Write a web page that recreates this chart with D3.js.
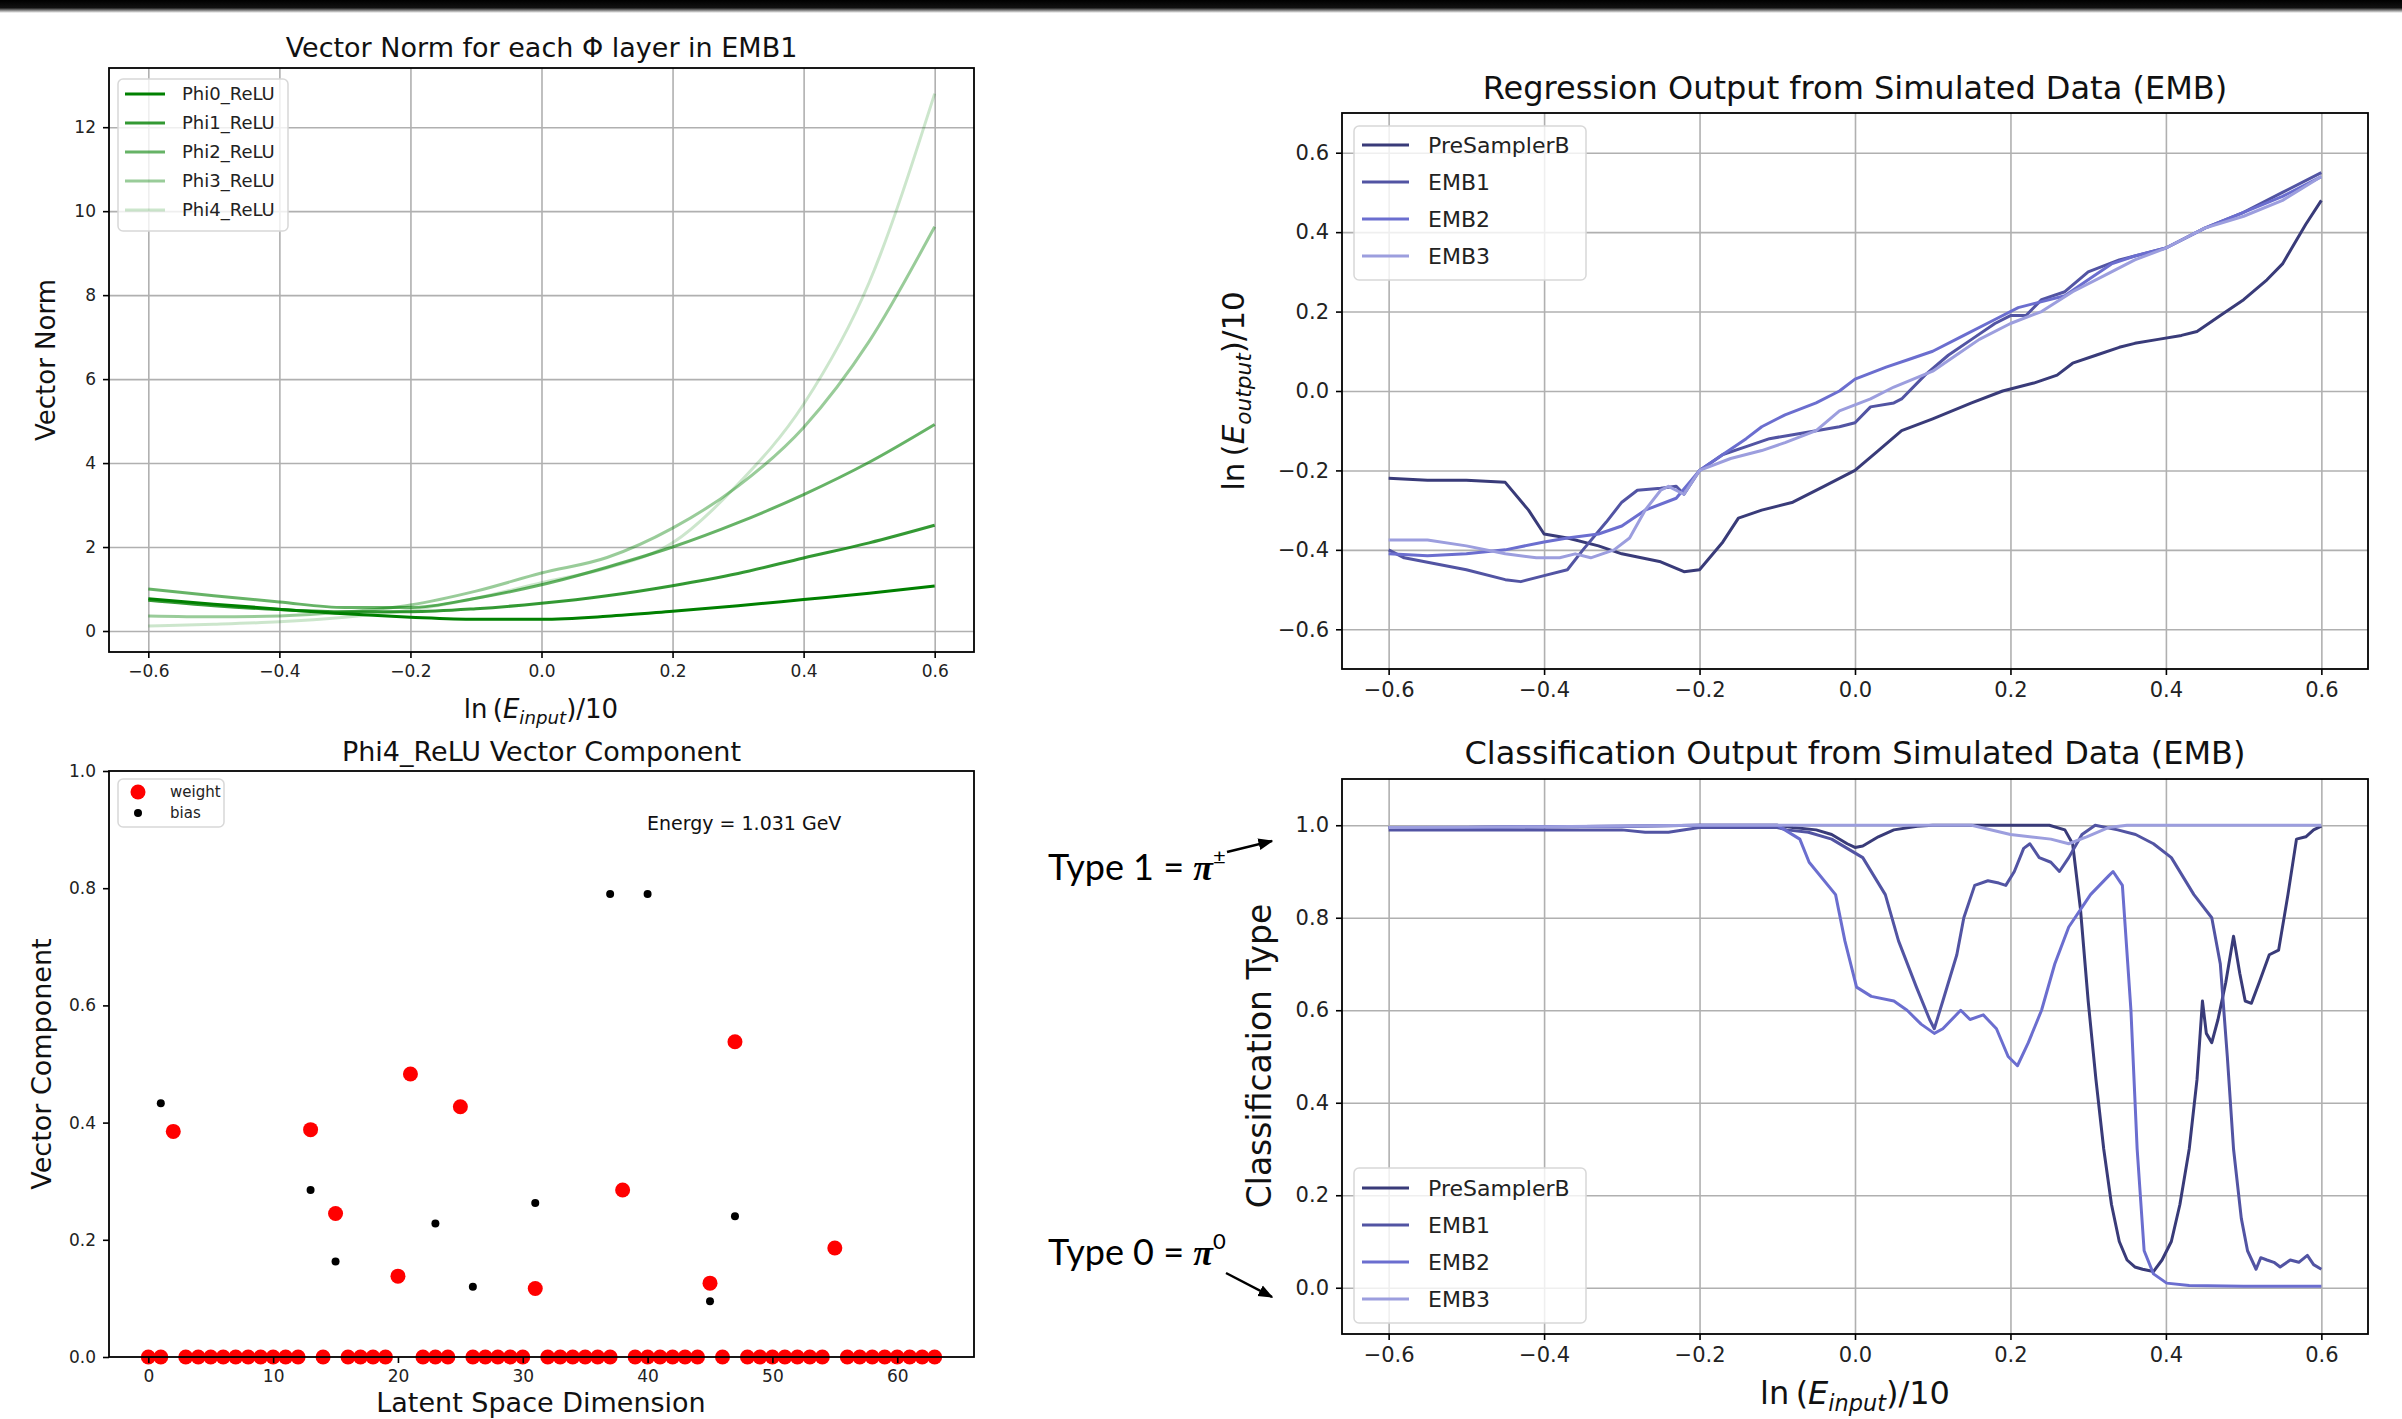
<!DOCTYPE html>
<html lang="en">
<head>
<meta charset="utf-8" />
<title>EMB regression / classification panels</title>
<script src="https://d3js.org/d3.v7.min.js"></script>
<style>
  html, body { margin: 0; padding: 0; background: #fff; overflow: hidden; }
  svg { display: block; font-family: "DejaVu Sans", sans-serif; }
</style>
</head>
<body>
<script>
// ---- data ----

// panel A: vector norm of each Phi layer vs ln(E_input)/10
const normX = [-0.6, -0.5, -0.4, -0.3, -0.2, -0.1, 0, 0.1, 0.2, 0.3, 0.4, 0.5, 0.6];
const phiNames = ["Phi0_ReLU", "Phi1_ReLU", "Phi2_ReLU", "Phi3_ReLU", "Phi4_ReLU"];
const phi0 = [0.77, 0.64, 0.52, 0.41, 0.33, 0.28, 0.28, 0.35, 0.47, 0.60, 0.75, 0.90, 1.07];
const phi1 = [0.73, 0.60, 0.51, 0.46, 0.46, 0.53, 0.66, 0.84, 1.08, 1.37, 1.74, 2.10, 2.52];
const phi2 = [1.00, 0.84, 0.69, 0.56, 0.56, 0.78, 1.10, 1.52, 2.00, 2.58, 3.25, 4.02, 4.92];
const phi3 = [0.36, 0.34, 0.36, 0.45, 0.62, 0.95, 1.38, 1.75, 2.45, 3.45, 4.85, 6.90, 9.63];
const phi4 = [0.12, 0.16, 0.22, 0.33, 0.50, 0.78, 1.15, 1.50, 2.10, 3.50, 5.40, 8.30, 12.80];

// panel B: regression output
const layerNames = ["PreSamplerB", "EMB1", "EMB2", "EMB3"];
const regPsbX = [-0.6, -0.55, -0.5, -0.45, -0.42, -0.4, -0.37, -0.33, -0.3, -0.25, -0.22, -0.2, -0.17, -0.15, -0.12, -0.08, -0.04, 0, 0.03, 0.06, 0.1, 0.15, 0.19, 0.23, 0.26, 0.28, 0.31, 0.34, 0.36, 0.39, 0.42, 0.44, 0.47, 0.5, 0.53, 0.55, 0.58, 0.6];
const regPsbY = [-0.22, -0.225, -0.225, -0.23, -0.30, -0.36, -0.37, -0.39, -0.41, -0.43, -0.455, -0.45, -0.38, -0.32, -0.30, -0.28, -0.24, -0.20, -0.15, -0.10, -0.07, -0.03, 0.00, 0.02, 0.04, 0.07, 0.09, 0.11, 0.12, 0.13, 0.14, 0.15, 0.19, 0.23, 0.28, 0.32, 0.42, 0.48];
const regEmb1X = [-0.6, -0.58, -0.5, -0.45, -0.43, -0.4, -0.37, -0.35, -0.32, -0.3, -0.28, -0.25, -0.23, -0.22, -0.2, -0.17, -0.14, -0.11, -0.08, -0.05, -0.02, 0, 0.02, 0.05, 0.06, 0.09, 0.12, 0.15, 0.18, 0.2, 0.22, 0.24, 0.27, 0.3, 0.34, 0.4, 0.45, 0.5, 0.55, 0.6];
const regEmb1Y = [-0.40, -0.42, -0.45, -0.475, -0.48, -0.465, -0.45, -0.40, -0.33, -0.28, -0.25, -0.245, -0.24, -0.26, -0.20, -0.16, -0.14, -0.12, -0.11, -0.10, -0.09, -0.08, -0.04, -0.03, -0.02, 0.04, 0.09, 0.13, 0.17, 0.19, 0.19, 0.23, 0.25, 0.30, 0.33, 0.36, 0.41, 0.45, 0.50, 0.55];
const regEmb2X = [-0.6, -0.55, -0.5, -0.45, -0.4, -0.37, -0.33, -0.3, -0.27, -0.23, -0.2, -0.17, -0.14, -0.12, -0.09, -0.05, -0.02, 0, 0.04, 0.07, 0.1, 0.14, 0.18, 0.21, 0.23, 0.27, 0.3, 0.33, 0.36, 0.4, 0.45, 0.5, 0.55, 0.6];
const regEmb2Y = [-0.41, -0.415, -0.41, -0.40, -0.38, -0.37, -0.36, -0.34, -0.30, -0.27, -0.20, -0.16, -0.12, -0.09, -0.06, -0.03, 0.00, 0.03, 0.06, 0.08, 0.10, 0.14, 0.18, 0.21, 0.22, 0.24, 0.28, 0.32, 0.34, 0.36, 0.41, 0.45, 0.49, 0.54];
const regEmb3X = [-0.6, -0.55, -0.5, -0.45, -0.41, -0.38, -0.36, -0.34, -0.31, -0.29, -0.27, -0.25, -0.24, -0.22, -0.2, -0.16, -0.12, -0.09, -0.05, -0.02, 0.02, 0.05, 0.1, 0.13, 0.16, 0.2, 0.24, 0.28, 0.32, 0.36, 0.4, 0.45, 0.5, 0.55, 0.6];
const regEmb3Y = [-0.375, -0.375, -0.39, -0.41, -0.42, -0.42, -0.41, -0.42, -0.40, -0.37, -0.30, -0.25, -0.24, -0.26, -0.20, -0.17, -0.15, -0.13, -0.10, -0.05, -0.02, 0.01, 0.05, 0.09, 0.13, 0.17, 0.20, 0.25, 0.29, 0.33, 0.36, 0.41, 0.44, 0.48, 0.54];

// panel C: Phi4_ReLU vector component (64 latent dims)
const dims = d3.range(64);
const weights = [0, 0, 0.385, 0, 0, 0, 0, 0, 0, 0, 0, 0, 0, 0.388, 0, 0.245,
                 0, 0, 0, 0, 0.138, 0.483, 0, 0, 0, 0.427, 0, 0, 0, 0, 0, 0.117,
                 0, 0, 0, 0, 0, 0, 0.285, 0, 0, 0, 0, 0, 0, 0.126, 0, 0.538,
                 0, 0, 0, 0, 0, 0, 0, 0.186, 0, 0, 0, 0, 0, 0, 0, 0];
const biasDims = [1, 13, 15, 23, 26, 31, 37, 40, 45, 47];
const biasVals = [0.433, 0.285, 0.163, 0.228, 0.120, 0.263, 0.790, 0.790, 0.095, 0.240];

// panel D: classification output
const clsPsbX = [-0.6, -0.5, -0.4, -0.3, -0.2, -0.1, -0.08, -0.05, -0.03, -0.01, 0, 0.01, 0.03, 0.05, 0.08, 0.1, 0.2, 0.25, 0.27, 0.28, 0.29, 0.3, 0.31, 0.32, 0.33, 0.34, 0.35, 0.36, 0.37, 0.384, 0.395, 0.407, 0.418, 0.43, 0.44, 0.447, 0.452, 0.459, 0.467, 0.477, 0.487, 0.495, 0.502, 0.51, 0.52, 0.533, 0.545, 0.557, 0.568, 0.58, 0.59, 0.6];
const clsPsbY = [0.995, 0.995, 0.997, 0.998, 1.0, 1.0, 0.995, 0.99, 0.98, 0.96, 0.952, 0.955, 0.975, 0.99, 0.998, 1.0, 1.0, 1.0, 0.99, 0.96, 0.82, 0.62, 0.45, 0.30, 0.18, 0.10, 0.06, 0.045, 0.04, 0.035, 0.06, 0.10, 0.18, 0.30, 0.45, 0.62, 0.55, 0.53, 0.58, 0.66, 0.76, 0.68, 0.62, 0.615, 0.66, 0.72, 0.73, 0.85, 0.97, 0.975, 0.99, 0.998];
const clsEmb1X = [-0.6, -0.5, -0.4, -0.3, -0.27, -0.24, -0.2, -0.1, -0.088, -0.06, -0.03, 0.01, 0.039, 0.056, 0.079, 0.096, 0.102, 0.113, 0.131, 0.14, 0.154, 0.171, 0.185, 0.194, 0.205, 0.217, 0.225, 0.237, 0.252, 0.263, 0.275, 0.292, 0.309, 0.338, 0.361, 0.384, 0.407, 0.436, 0.459, 0.47, 0.479, 0.487, 0.497, 0.505, 0.516, 0.522, 0.53, 0.539, 0.547, 0.56, 0.571, 0.582, 0.59, 0.6];
const clsEmb1Y = [0.99, 0.99, 0.99, 0.99, 0.985, 0.985, 0.995, 0.995, 0.99, 0.985, 0.97, 0.93, 0.85, 0.75, 0.65, 0.58, 0.56, 0.62, 0.72, 0.80, 0.87, 0.88, 0.875, 0.87, 0.90, 0.95, 0.96, 0.93, 0.92, 0.90, 0.93, 0.98, 1.0, 0.99, 0.98, 0.96, 0.93, 0.85, 0.80, 0.70, 0.50, 0.30, 0.15, 0.08, 0.04, 0.065, 0.06, 0.055, 0.045, 0.06, 0.055, 0.07, 0.05, 0.04];
const clsEmb2X = [-0.6, -0.5, -0.4, -0.3, -0.2, -0.1, -0.071, -0.059, -0.025, -0.013, 0.002, 0.021, 0.05, 0.067, 0.085, 0.102, 0.113, 0.136, 0.148, 0.165, 0.182, 0.197, 0.209, 0.223, 0.24, 0.257, 0.275, 0.303, 0.326, 0.332, 0.344, 0.355, 0.363, 0.372, 0.384, 0.401, 0.43, 0.5, 0.6];
const clsEmb2Y = [0.995, 0.995, 0.997, 0.998, 1.0, 1.0, 0.97, 0.92, 0.85, 0.75, 0.65, 0.63, 0.62, 0.60, 0.57, 0.55, 0.56, 0.60, 0.58, 0.59, 0.56, 0.50, 0.48, 0.53, 0.60, 0.70, 0.78, 0.85, 0.89, 0.90, 0.87, 0.60, 0.30, 0.08, 0.03, 0.01, 0.005, 0.003, 0.003];
const clsEmb3X = [-0.6, -0.4, -0.2, 0, 0.15, 0.2, 0.252, 0.275, 0.298, 0.326, 0.35, 0.45, 0.6];
const clsEmb3Y = [0.995, 0.997, 1.0, 1.0, 1.0, 0.98, 0.97, 0.96, 0.975, 0.995, 1.0, 1.0, 1.0];

const energyTicks = [-0.6, -0.4, -0.2, 0, 0.2, 0.4, 0.6];
const layerColors = ["#393b79", "#5254a3", "#6b6ecf", "#9c9ede"];

// ---- page ----
const W = 2402, H = 1419;
const svg = d3.select("body").append("svg").attr("width", W).attr("height", H);

// dark strip along the top of the slide
const grad = svg.append("defs").append("linearGradient")
  .attr("id", "topfade").attr("x1", 0).attr("x2", 0).attr("y1", 0).attr("y2", 1);
grad.append("stop").attr("offset", "0%").attr("stop-color", "#000");
grad.append("stop").attr("offset", "60%").attr("stop-color", "#111");
grad.append("stop").attr("offset", "100%").attr("stop-color", "#fff");
svg.append("rect").attr("x", 0).attr("y", 0).attr("width", W).attr("height", 13).attr("fill", "url(#topfade)");

svg.select("defs").append("marker")
  .attr("id", "arrow").attr("viewBox", "0 0 10 10").attr("refX", 9).attr("refY", 5)
  .attr("markerWidth", 6).attr("markerHeight", 6).attr("orient", "auto")
  .append("path").attr("d", "M0,1 L10,5 L0,9 z").attr("fill", "#000");

// builds grid, axes and frame for one matplotlib-like panel
function makePanel(o) {
  const x = d3.scaleLinear().domain(o.xDomain).range([o.left, o.right]);
  const y = d3.scaleLinear().domain(o.yDomain).range([o.bottom, o.top]);
  const g = svg.append("g");
  const ph = o.bottom - o.top, pw = o.right - o.left;

  if (o.grid) {
    g.append("g").attr("transform", `translate(0,${o.bottom})`)
      .call(d3.axisBottom(x).tickValues(o.xTicks).tickSize(-ph).tickFormat(""))
      .call(s => { s.select(".domain").remove(); s.selectAll("line").attr("stroke", "#b0b0b0").attr("stroke-width", 1.6); });
    g.append("g").attr("transform", `translate(${o.left},0)`)
      .call(d3.axisLeft(y).tickValues(o.yTicks).tickSize(-pw).tickFormat(""))
      .call(s => { s.select(".domain").remove(); s.selectAll("line").attr("stroke", "#b0b0b0").attr("stroke-width", 1.6); });
  }

  const plot = g.append("g");

  const xa = g.append("g").attr("transform", `translate(0,${o.bottom})`)
    .call(d3.axisBottom(x).tickValues(o.xTicks).tickFormat(o.xFmt).tickSize(6).tickPadding(7));
  const ya = g.append("g").attr("transform", `translate(${o.left},0)`)
    .call(d3.axisLeft(y).tickValues(o.yTicks).tickFormat(o.yFmt).tickSize(6).tickPadding(7));
  [xa, ya].forEach(a => {
    a.select(".domain").remove();
    a.selectAll("line").attr("stroke", "#000").attr("stroke-width", 1.6);
    a.selectAll("text").attr("font-family", "DejaVu Sans").attr("font-size", o.tickSize).attr("fill", "#222");
  });

  g.append("rect").attr("x", o.left).attr("y", o.top).attr("width", pw).attr("height", ph)
    .attr("fill", "none").attr("stroke", "#000").attr("stroke-width", 1.8);

  g.append("text").attr("x", (o.left + o.right) / 2).attr("y", o.titleY)
    .attr("text-anchor", "middle").attr("font-size", o.titleSize).attr("fill", "#111").text(o.title);

  return { x, y, g, plot };
}

// "ln(E_sub)/10" label written as mathtext-like tspans
function lnLabel(t, sub, fs) {
  t.append("tspan").text("ln\u2009(");
  t.append("tspan").attr("font-style", "italic").text("E");
  t.append("tspan").attr("font-style", "italic").attr("font-size", fs * 0.7).attr("dy", fs * 0.22).text(sub);
  t.append("tspan").attr("dy", -fs * 0.22).text(")/10");
}

function legend(g, o) {
  g.append("rect").attr("x", o.x).attr("y", o.y).attr("width", o.w).attr("height", o.h)
    .attr("rx", 5).attr("fill", "#fff").attr("fill-opacity", 0.8).attr("stroke", "#d8d8d8").attr("stroke-width", 1.5);
  o.items.forEach((it, i) => {
    const cy = o.y + o.first + i * o.step;
    if (it.type === "dot") {
      g.append("circle").attr("cx", o.x + o.sx + o.sw / 2).attr("cy", cy).attr("r", it.r).attr("fill", it.color);
    } else {
      g.append("line").attr("x1", o.x + o.sx).attr("x2", o.x + o.sx + o.sw).attr("y1", cy).attr("y2", cy)
        .attr("stroke", it.color).attr("stroke-opacity", it.opacity == null ? 1 : it.opacity).attr("stroke-width", 3);
    }
    g.append("text").attr("x", o.x + o.tx).attr("y", cy + o.fs * 0.36).attr("font-size", o.fs).attr("fill", "#222").text(it.label);
  });
}

const f1 = d3.format(".1f");
const fInt = d3.format("d");

// ---- panel A ----
const A = makePanel({
  left: 109, right: 974, top: 68, bottom: 652,
  xDomain: [-0.66, 0.66], yDomain: [-0.5, 13.41],
  xTicks: energyTicks, yTicks: [0, 2, 4, 6, 8, 10, 12], xFmt: f1, yFmt: fInt,
  tickSize: 17, grid: true,
  title: "Vector Norm for each \u03A6 layer in EMB1", titleY: 57, titleSize: 27
});
const phiSeries = [phi0, phi1, phi2, phi3, phi4];
const phiAlpha = [1, 0.8, 0.6, 0.4, 0.2];
const lineA = d3.line().x((d, i) => A.x(normX[i])).y(d => A.y(d)).curve(d3.curveMonotoneX);
phiSeries.forEach((s, k) => {
  A.plot.append("path").attr("d", lineA(s)).attr("fill", "none")
    .attr("stroke", "green").attr("stroke-opacity", phiAlpha[k]).attr("stroke-width", 3);
});
legend(A.g, {
  x: 118, y: 79, w: 170, h: 152, first: 15, step: 29, sx: 7, sw: 40, tx: 64, fs: 18,
  items: phiNames.map((n, k) => ({ label: n, color: "green", opacity: phiAlpha[k] }))
});
lnLabel(A.g.append("text").attr("x", 541).attr("y", 718).attr("text-anchor", "middle").attr("font-size", 26).attr("fill", "#111"), "input", 26);
A.g.append("text").attr("transform", "translate(55,360) rotate(-90)").attr("text-anchor", "middle")
  .attr("font-size", 26).attr("fill", "#111").text("Vector Norm");

// ---- panel B ----
const B = makePanel({
  left: 1342, right: 2368, top: 113, bottom: 669,
  xDomain: [-0.66, 0.66], yDomain: [-0.7, 0.7],
  xTicks: energyTicks, yTicks: [-0.6, -0.4, -0.2, 0, 0.2, 0.4, 0.6], xFmt: f1, yFmt: f1,
  tickSize: 21, grid: true,
  title: "Regression Output from Simulated Data (EMB)", titleY: 99, titleSize: 32
});
const regSeries = [[regPsbX, regPsbY], [regEmb1X, regEmb1Y], [regEmb2X, regEmb2Y], [regEmb3X, regEmb3Y]];
regSeries.forEach((s, k) => {
  const ln = d3.line().x((d, i) => B.x(s[0][i])).y(d => B.y(d));
  B.plot.append("path").attr("d", ln(s[1])).attr("fill", "none")
    .attr("stroke", layerColors[k]).attr("stroke-width", 3).attr("stroke-linejoin", "round");
});
legend(B.g, {
  x: 1354, y: 126, w: 232, h: 154, first: 19, step: 37, sx: 8, sw: 47, tx: 74, fs: 22,
  items: layerNames.map((n, k) => ({ label: n, color: layerColors[k] }))
});
lnLabel(B.g.append("text").attr("transform", "translate(1244,391) rotate(-90)").attr("text-anchor", "middle")
  .attr("font-size", 31).attr("fill", "#111"), "output", 31);

// ---- panel C ----
const C = makePanel({
  left: 109, right: 974, top: 771, bottom: 1357,
  xDomain: [-3.15, 66.15], yDomain: [0, 1],
  xTicks: [0, 10, 20, 30, 40, 50, 60], yTicks: [0, 0.2, 0.4, 0.6, 0.8, 1.0], xFmt: fInt, yFmt: f1,
  tickSize: 17, grid: false,
  title: "Phi4_ReLU Vector Component", titleY: 761, titleSize: 27
});
C.plot.selectAll("circle.w").data(dims).enter().append("circle").attr("class", "w")
  .attr("cx", d => C.x(d)).attr("cy", d => C.y(weights[d])).attr("r", 7.5).attr("fill", "#ff0000");
C.plot.selectAll("circle.b").data(biasDims).enter().append("circle").attr("class", "b")
  .attr("cx", d => C.x(d)).attr("cy", (d, i) => C.y(biasVals[i])).attr("r", 4).attr("fill", "#000");
legend(C.g, {
  x: 118, y: 779, w: 106, h: 48, first: 13, step: 21, sx: 7, sw: 26, tx: 52, fs: 15,
  items: [{ label: "weight", type: "dot", r: 7.5, color: "#ff0000" }, { label: "bias", type: "dot", r: 4, color: "#000" }]
});
C.g.append("text").attr("x", 647).attr("y", 830).attr("font-size", 19).attr("fill", "#111").text("Energy = 1.031 GeV");
C.g.append("text").attr("x", 541).attr("y", 1412).attr("text-anchor", "middle").attr("font-size", 27).attr("fill", "#111").text("Latent Space Dimension");
C.g.append("text").attr("transform", "translate(51,1064) rotate(-90)").attr("text-anchor", "middle")
  .attr("font-size", 27).attr("fill", "#111").text("Vector Component");

// ---- panel D ----
const D = makePanel({
  left: 1342, right: 2368, top: 779, bottom: 1334,
  xDomain: [-0.66, 0.66], yDomain: [-0.1, 1.1],
  xTicks: energyTicks, yTicks: [0, 0.2, 0.4, 0.6, 0.8, 1.0], xFmt: f1, yFmt: f1,
  tickSize: 21, grid: true,
  title: "Classification Output from Simulated Data (EMB)", titleY: 764, titleSize: 32
});
const clsSeries = [[clsPsbX, clsPsbY], [clsEmb1X, clsEmb1Y], [clsEmb2X, clsEmb2Y], [clsEmb3X, clsEmb3Y]];
clsSeries.forEach((s, k) => {
  const ln = d3.line().x((d, i) => D.x(s[0][i])).y(d => D.y(d));
  D.plot.append("path").attr("d", ln(s[1])).attr("fill", "none")
    .attr("stroke", layerColors[k]).attr("stroke-width", 3).attr("stroke-linejoin", "round");
});
legend(D.g, {
  x: 1354, y: 1168, w: 232, h: 155, first: 20, step: 37, sx: 8, sw: 47, tx: 74, fs: 22,
  items: layerNames.map((n, k) => ({ label: n, color: layerColors[k] }))
});
lnLabel(D.g.append("text").attr("x", 1855).attr("y", 1404).attr("text-anchor", "middle").attr("font-size", 32).attr("fill", "#111"), "input", 32);
D.g.append("text").attr("transform", "translate(1271,1056) rotate(-90)").attr("text-anchor", "middle")
  .attr("font-size", 33).attr("fill", "#111").text("Classification Type");

// ---- slide annotations: class meaning ----
function typeNote(x, y, num, sup) {
  const t = svg.append("text").attr("x", x).attr("y", y).attr("font-family", "Lato").attr("font-size", 36).attr("fill", "#000");
  t.append("tspan").text(`Type ${num} = `);
  t.append("tspan").attr("font-family", "Liberation Serif").attr("font-style", "italic").attr("font-weight", "bold").text("\u03C0");
  t.append("tspan").attr("font-size", 22).attr("dy", -16).text(sup);
}
typeNote(1048, 880, "1", "\u00B1");
typeNote(1048, 1265, "0", "0");
svg.append("line").attr("x1", 1227).attr("y1", 852).attr("x2", 1272).attr("y2", 841)
  .attr("stroke", "#000").attr("stroke-width", 2.5).attr("marker-end", "url(#arrow)");
svg.append("line").attr("x1", 1226).attr("y1", 1273).attr("x2", 1272).attr("y2", 1297)
  .attr("stroke", "#000").attr("stroke-width", 2.5).attr("marker-end", "url(#arrow)");
</script>
</body>
</html>
